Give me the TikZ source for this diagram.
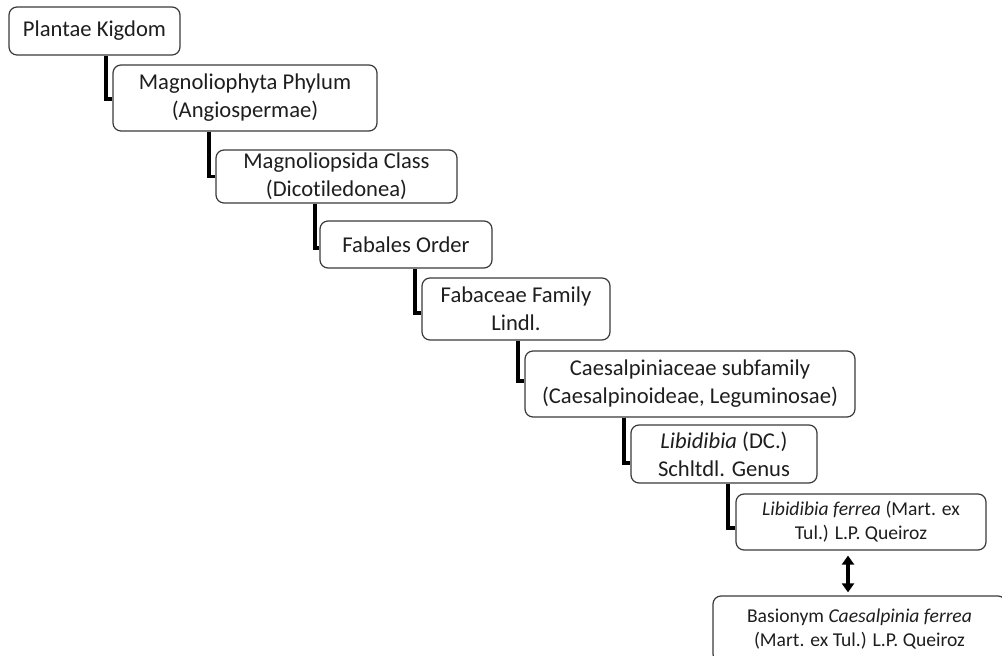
\documentclass[tikz,border=0pt]{standalone}
\usepackage{fontspec}
\setmainfont{Carlito}[Ligatures=NoCommon]
\usetikzlibrary{arrows.meta}
\definecolor{boxline}{HTML}{3A3A3A}
\definecolor{txt}{HTML}{1E1E1E}
\tikzset{
  taxbox/.style={draw=boxline, line width=0.6pt, rounded corners=4pt, fill=white,
    align=center, inner sep=0pt, text=txt,
    font=\fontsize{11.3}{14}\selectfont},
  smallbox/.style={taxbox, font=\fontsize{9.8}{12}\selectfont},
  conn/.style={draw=black, line width=1.8pt, line join=miter},
  dbl/.style={draw=black, line width=1.8pt,
    {Triangle[length=4.5pt,width=6pt]}-{Triangle[length=4.5pt,width=6pt]}}
}
\begin{document}
\begin{tikzpicture}[x=0.5pt,y=-0.5pt]
\useasboundingbox (0,0) rectangle (1002,656);
\clip (0,0) rectangle (1002,656);
% connector x positions
\coordinate (x1) at (106,0);
\coordinate (x2) at (209,0);
\coordinate (x3) at (315,0);
\coordinate (x4) at (415,0);
\coordinate (x5) at (518,0);
\coordinate (x6) at (624,0);
\coordinate (x7) at (728,0);
\coordinate (xa) at (848,0);
% boxes
\node[taxbox, minimum width=85.5pt, minimum height=24pt] (b1) at (94.5,31) {Plantae Kigdom};
\node[taxbox, minimum width=132pt, minimum height=33pt] (b2) at (245,98) {Magnoliophyta Phylum\\(Angiospermae)};
\node[taxbox, minimum width=120.5pt, minimum height=26.5pt] (b3) at (336.5,176.5) {Magnoliopsida Class\\(Dicotiledonea)};
\node[taxbox, minimum width=86pt, minimum height=23.5pt] (b4) at (406,244.5) {Fabales Order};
\node[taxbox, minimum width=94pt, minimum height=31pt] (b5) at (516,309) {Fabaceae Family\\Lindl.};
\node[taxbox, minimum width=165pt, minimum height=33pt] (b6) at (690,384) {Caesalpiniaceae subfamily\\(Caesalpinoideae, Leguminosae)};
\node[taxbox, minimum width=93pt, minimum height=29pt] (b7) at (724,454) {\textit{Libidibia} (DC.)\\Schltdl. Genus};
\node[smallbox, minimum width=125pt, minimum height=28pt] (b8) at (861,522) {\textit{Libidibia ferrea} (Mart. ex\\Tul.) L.P. Queiroz};
\node[smallbox, minimum width=146.5pt, minimum height=33pt] (b9) at (859.5,629) {Basionym \textit{Caesalpinia ferrea}\\(Mart. ex Tul.) L.P. Queiroz};
% connectors
\draw[conn] (b1.south -| x1) |- ([yshift=-0.5pt]b2.west);
\draw[conn] (b2.south -| x2) |- (b3.west);
\draw[conn] (b3.south -| x3) |- ([yshift=-1.75pt]b4.west);
\draw[conn] (b4.south -| x4) |- ([yshift=-2pt]b5.west);
\draw[conn] (b5.south -| x5) |- ([yshift=1.5pt]b6.west);
\draw[conn] (b6.south -| x6) |- ([yshift=-4.5pt]b7.west);
\draw[conn] (b7.south -| x7) |- ([yshift=-3pt]b8.west);
\draw[dbl] ([yshift=-2.5pt]b8.south -| xa) -- ([yshift=1.5pt]b9.north -| xa);
\end{tikzpicture}
\end{document}
